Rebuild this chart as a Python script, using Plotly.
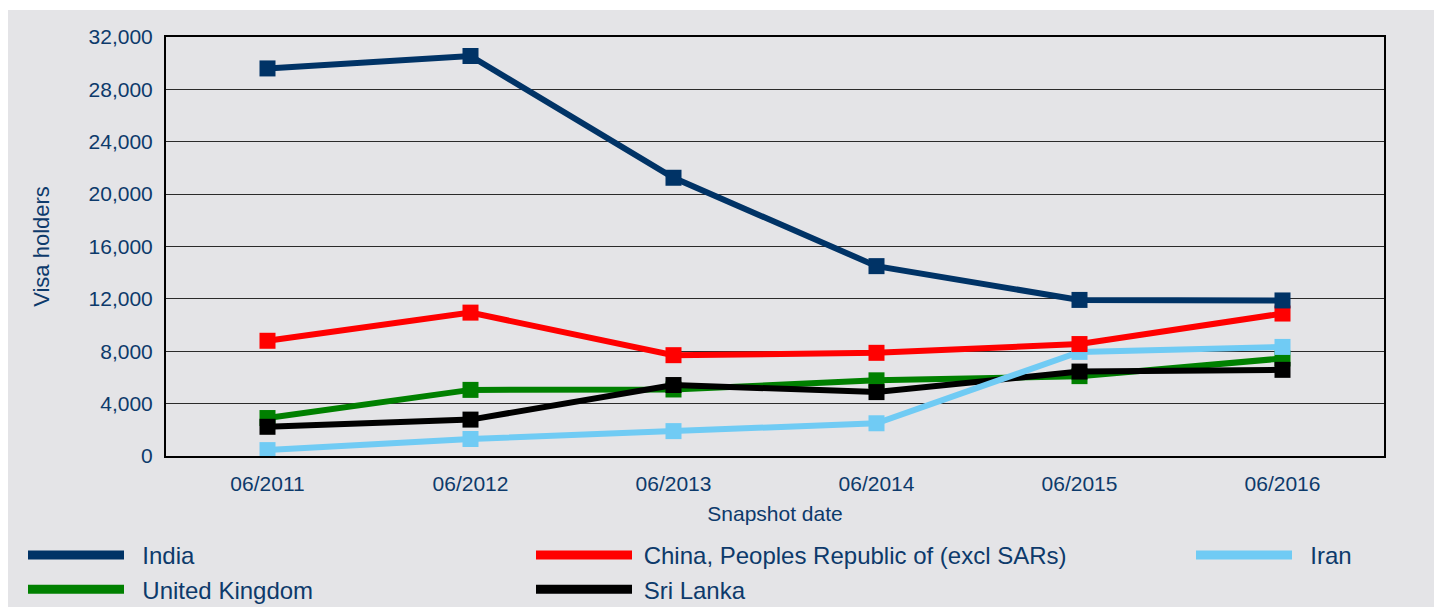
import plotly.graph_objects as go

# snapshot dates (x categories)
dates = ["06/2011", "06/2012", "06/2013", "06/2014", "06/2015", "06/2016"]

# visa holders per country
india = [29600, 30550, 21250, 14500, 11920, 11880]
china = [8800, 10950, 7700, 7880, 8550, 10880]
iran = [450, 1300, 1900, 2500, 7950, 8330]
uk = [2900, 5050, 5080, 5780, 6100, 7450]
sri_lanka = [2230, 2780, 5420, 4880, 6450, 6580]

TEXT = "#0d3a6b"
BG = "#e4e4e7"
FONT = "Liberation Sans, Arial, sans-serif"
NB = "\u00a0"

series = [
	("India", india, "#003366", "legend", 2),
	("United Kingdom", uk, "#008000", "legend", 2),
	("China, Peoples Republic of (excl SARs)", china, "#ff0000", "legend2", 1),
	("Sri Lanka", sri_lanka, "#000000", "legend2", 1),
	("Iran", iran, "#70cbf4", "legend3", 2),
]
# drawing order in the reference (India on top)
draw_order = ["United Kingdom", "Sri Lanka", "Iran", "China, Peoples Republic of (excl SARs)", "India"]

fig = go.Figure()
lookup = {s[0]: s for s in series}
for name in draw_order:
	_, vals, color, _, _ = lookup[name]
	fig.add_trace(go.Scatter(x = dates, y = vals, mode = "lines+markers", name = name,
	                         line = dict(color = color, width = 6),
	                         marker = dict(symbol = "square", size = 16, color = color),
	                         showlegend = False))

# legend-only entries (lines without markers)
for name, vals, color, leg, pad in series:
	fig.add_trace(go.Scatter(x = [None], y = [None], mode = "lines", name = NB * pad + name,
	                         line = dict(color = color, width = 9), legend = leg))

W, H = 1434, 607
ml, mr, mt, mb = 166, 50, 37, 151
pw, ph = W - ml - mr, H - mt - mb


def px_x(p):
	return (p - ml) / pw


def px_y(p):
	return (H - mb - p) / ph


legend_common = dict(orientation = "v", bgcolor = "rgba(0,0,0,0)", itemwidth = 96,
                     font = dict(family = FONT, size = 24, color = TEXT),
                     xref = "paper", yref = "container",
                     xanchor = "left", yanchor = "top", tracegroupgap = 0,
                     itemclick = False, itemdoubleclick = False)
leg_y = 1 - 533 / H

fig.update_layout(
	width = W, height = H,
	margin = dict(l = ml, r = mr, t = mt, b = mb),
	paper_bgcolor = "white",
	plot_bgcolor = "rgba(0,0,0,0)",
	font = dict(family = FONT, color = TEXT),
	legend = dict(x = px_x(23), y = leg_y, **legend_common),
	legend2 = dict(x = px_x(531), y = leg_y, **legend_common),
	legend3 = dict(x = px_x(1191), y = leg_y, **legend_common),
	shapes = [dict(type = "rect", xref = "paper", yref = "paper", layer = "below",
	               x0 = px_x(8), x1 = px_x(W + 5), y0 = px_y(H + 5), y1 = px_y(10),
	               fillcolor = BG, line = dict(width = 0))],
)

fig.update_xaxes(type = "category", range = [-0.5, 5.5],
                 showline = True, linecolor = "black", linewidth = 2, mirror = True,
                 showgrid = False, ticks = "", ticklabelstandoff = 8,
                 tickfont = dict(size = 21, color = TEXT),
                 title = dict(text = "Snapshot date", font = dict(size = 21, color = TEXT), standoff = 12))
fig.update_yaxes(range = [0, 32000], dtick = 4000, tickformat = ",d",
                 showline = True, linecolor = "black", linewidth = 2, mirror = True,
                 showgrid = True, gridcolor = "#2a2a2a", gridwidth = 1, zeroline = False,
                 ticks = "", ticklabelstandoff = 7,
                 tickfont = dict(size = 21, color = TEXT),
                 title = dict(text = "Visa holders", font = dict(size = 22, color = TEXT), standoff = 33))

# drop the default page margin so the figure sits at the window's corner
fig.write_html("out.html", config = {"displayModeBar": False},
               post_script = "document.body.style.margin = '0';")
